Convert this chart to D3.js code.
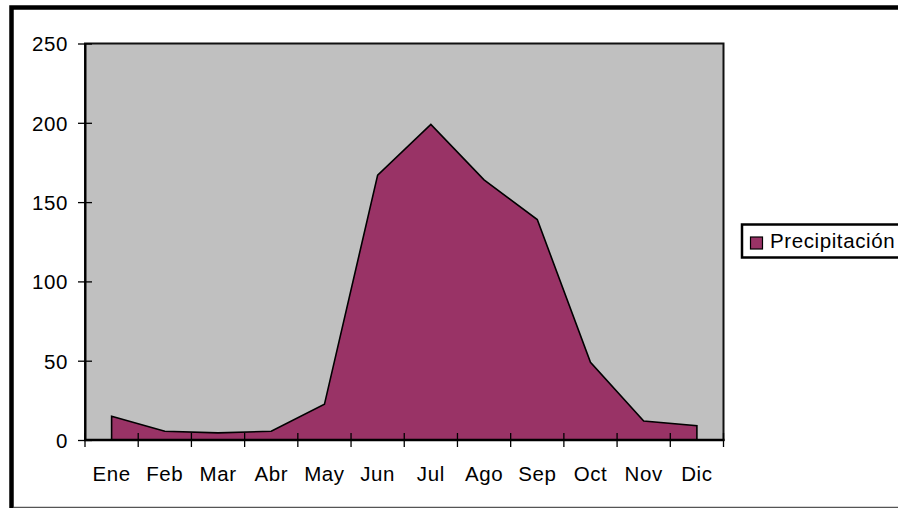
<!DOCTYPE html>
<html>
<head>
<meta charset="utf-8">
<script src="https://cdn.jsdelivr.net/npm/d3@7"></script>
<style>
  html, body { margin: 0; padding: 0; background: #fff; }
  svg { display: block; }
  text { font-family: "Liberation Sans", Arial, sans-serif; fill: #000; }
</style>
</head>
<body>
<svg id="chart" width="898" height="508"></svg>
<script>
// Monthly precipitation (mm)
const months = ["Ene", "Feb", "Mar", "Abr", "May", "Jun", "Jul", "Ago", "Sep", "Oct", "Nov", "Dic"];
const precipitacion = [15, 5.5, 4.5, 5.5, 22.5, 167, 199, 164, 139, 49, 12, 9];
const yTicks = [0, 50, 100, 150, 200, 250];
const seriesName = "Precipitación";

const FONT = "'Liberation Sans', Arial, sans-serif";
const FONT_SIZE = "20.5px";
const LETTER_SPACING = "0.6px";

const svg = d3.select("#chart");

// Outer chart frame (extends past the right edge of the page)
svg.append("path")
  .attr("d", "M11.5,508 V7.5 H900")
  .attr("fill", "none")
  .attr("stroke", "#000")
  .attr("stroke-width", 4.5);
svg.append("line")
  .attr("x1", 14).attr("x2", 898).attr("y1", 507.5).attr("y2", 507.5)
  .attr("stroke", "#555").attr("stroke-width", 1.5);

const plot = { left: 85, right: 723.5, top: 43.5, bottom: 440 };

const x = d3.scaleBand().domain(months).range([plot.left, plot.right]).padding(0);
const y = d3.scaleLinear().domain([0, 250]).range([plot.bottom, plot.top]);

// Plot area background
svg.append("rect")
  .attr("x", plot.left).attr("y", plot.top)
  .attr("width", plot.right - plot.left).attr("height", plot.bottom - plot.top)
  .attr("fill", "#C0C0C0")
  .attr("stroke", "#111").attr("stroke-width", 2);

// Area series
const cx = m => x(m) + x.bandwidth() / 2;
const area = d3.area()
  .x((d, i) => cx(months[i]))
  .y0(y(0))
  .y1(d => y(d));
svg.append("path")
  .datum(precipitacion)
  .attr("d", area)
  .attr("fill", "#993366")
  .attr("stroke", "#000")
  .attr("stroke-width", 1.6)
  .attr("stroke-linejoin", "miter");

function styleText(sel) {
  sel.style("font-size", FONT_SIZE)
    .style("font-family", FONT)
    .style("letter-spacing", LETTER_SPACING)
    .attr("fill", "#000");
}

// Y axis
const yAxis = d3.axisLeft(y).tickValues(yTicks).tickSize(0).tickPadding(0);
const gy = svg.append("g").attr("transform", `translate(${plot.left},0)`).call(yAxis);
gy.select(".domain").attr("stroke", "#000").attr("stroke-width", 2);
gy.selectAll(".tick line").remove();
gy.selectAll(".tick").append("line")
  .attr("x1", -7).attr("x2", 7)
  .attr("stroke", "#000").attr("stroke-width", 1.3);
gy.selectAll(".tick text")
  .attr("x", -17).attr("dy", "0.36em")
  .call(styleText);

// X axis
const xAxis = d3.axisBottom(x).tickSize(0).tickPadding(0);
const gx = svg.append("g").attr("transform", `translate(0,${plot.bottom})`).call(xAxis);
gx.select(".domain").remove();
gx.append("line")
  .attr("x1", plot.left - 1).attr("x2", plot.right + 1)
  .attr("stroke", "#000").attr("stroke-width", 2.5);
gx.selectAll(".tick line").remove();
const boundaries = months.map(m => x(m)).concat([plot.right]);
gx.selectAll(".bound").data(boundaries).enter().append("line")
  .attr("class", "bound")
  .attr("x1", d => d).attr("x2", d => d)
  .attr("y1", -7).attr("y2", 7)
  .attr("stroke", "#000").attr("stroke-width", 1.3);
gx.selectAll(".tick text")
  .attr("y", 41).attr("dy", 0)
  .call(styleText);

// Legend
const legend = svg.append("g");
legend.append("rect")
  .attr("x", 742).attr("y", 224.5).attr("width", 200).attr("height", 33)
  .attr("fill", "#fff").attr("stroke", "#000").attr("stroke-width", 2.5);
legend.append("rect")
  .attr("x", 750.5).attr("y", 237).attr("width", 12).attr("height", 12)
  .attr("fill", "#993366").attr("stroke", "#000").attr("stroke-width", 1.2);
legend.append("text")
  .attr("x", 770).attr("y", 248)
  .call(styleText)
  .text(seriesName);
</script>
</body>
</html>
